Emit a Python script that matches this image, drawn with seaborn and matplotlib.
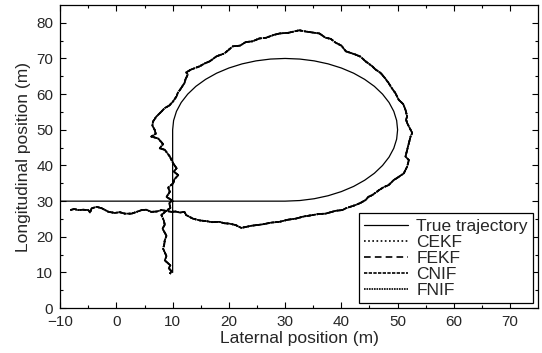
import numpy as np
import pandas as pd
import matplotlib
matplotlib.use("Agg")
import matplotlib.pyplot as plt
import seaborn as sns

# True trajectory
true_x = [-10, 10, 30, 32.61, 35.18, 37.65, 40, 42.18, 44.14, 45.87, 47.32, 48.48,
          49.32, 49.83, 50, 49.83, 49.32, 48.48, 47.32, 45.87, 44.14, 42.18, 40,
          37.65, 35.18, 32.61, 30, 27.39, 24.82, 22.35, 20, 17.82, 15.86, 14.13,
          12.68, 11.52, 10.68, 10.17, 10, 10]
true_y = [30, 30, 30, 30.17, 30.68, 31.52, 32.68, 34.13, 35.86, 37.82, 40, 42.35,
          44.82, 47.39, 50, 52.61, 55.18, 57.65, 60, 62.18, 64.14, 65.87, 67.32,
          68.48, 69.32, 69.83, 70, 69.83, 69.32, 68.48, 67.32, 65.87, 64.14, 62.18,
          60, 57.65, 55.18, 52.61, 50, 10]

# Estimated trajectory (all four filters overlap in the figure)
est_x = [9.5, 9.8, 9.3, 9.6, 8.6, 8.9, 8.3, 8.5, 8.6, 8.9, 8.2, 8.6, 8.4, 8.0, 8.8,
         9.6, 9.4, 9.9, 8.9, 9.5, 9.2, 10.1, 10.3, 11.0, 10.2, 10.7, 10.1, 9.8, 9.5,
         8.6, 7.7, 8.3, 7.4, 6.2, 7.0, 6.8, 6.4, 6.5, 7.1, 8.0, 8.6, 9.4, 10.1, 10.7,
         10.9, 11.3, 12.1, 12.3, 12.7, 12.4, 13.3, 14.8, 15.7, 16.6, 17.8, 19.2, 20.7,
         22.0, 23.0, 24.2, 25.4, 26.6, 28.0, 29.0, 30.6, 32.5, 33.5, 34.3, 36.1, 37.2,
         38.1, 39.0, 40.0, 40.8, 42.5, 43.4, 44.3, 45.5, 46.0, 47.0, 47.8, 48.4, 49.0,
         49.6, 50.2, 51.0, 51.4, 51.7, 51.5, 51.7, 52.6, 52.3, 52.0, 51.7, 51.4, 52.0,
         51.7, 51.1, 50.2, 49.3, 48.4, 47.5, 46.7, 45.5, 44.8, 44.3, 43.4, 42.5, 40.8,
         40.2, 39.0, 37.2, 36.0, 34.9, 33.3, 31.9, 30.5, 29.0, 27.6, 26.0, 24.0, 22.2,
         21.2, 20.1, 19.2, 18.3, 17.0, 16.0, 14.8, 13.6, 12.4, 12.1, 11.3, 10.5, 9.8,
         8.0, 7.2, 6.2, 5.3, 4.5, 3.6, 2.7, 1.5, 0.6, -0.3, -1.4, -2.6, -3.5, -4.4,
         -4.7, -5.0, -5.9, -6.8, -7.5, -8.2]
est_y = [9.6, 10.4, 11.2, 12.0, 13.4, 14.6, 16.7, 17.8, 19.0, 20.3, 22.3, 23.4, 24.7,
         26.1, 27.2, 28.1, 29.4, 30.2, 31.2, 32.6, 33.8, 35.0, 36.1, 37.3, 38.3, 39.2,
         40.6, 41.5, 42.5, 44.4, 44.8, 46.0, 47.6, 48.1, 48.9, 50.0, 51.2, 52.3, 53.7,
         55.1, 56.1, 56.8, 58.0, 59.4, 60.3, 61.2, 63.1, 64.2, 65.5, 66.1, 66.9, 67.8,
         68.6, 69.2, 70.6, 71.4, 73.4, 73.6, 74.6, 74.8, 75.6, 75.8, 76.6, 77.0, 77.2,
         77.9, 77.6, 77.4, 77.0, 75.8, 75.5, 74.4, 73.6, 72.0, 71.1, 70.5, 69.2, 67.8,
         67.0, 65.9, 64.4, 63.1, 61.6, 60.3, 58.4, 57.2, 55.6, 53.7, 52.9, 51.9, 49.1,
         48.1, 46.2, 44.4, 42.5, 41.5, 39.7, 37.8, 36.8, 35.9, 34.5, 33.9, 33.1, 31.7,
         31.2, 30.3, 29.5, 28.9, 28.0, 27.5, 27.3, 26.5, 26.4, 26.1, 25.7, 25.1, 24.8,
         24.2, 24.0, 23.5, 23.1, 22.5, 23.3, 23.7, 23.8, 24.2, 24.1, 24.4, 24.6, 25.1,
         26.1, 27.0, 26.8, 27.1, 27.0, 27.5, 27.1, 27.0, 27.6, 27.5, 27.0, 26.5, 26.5,
         26.9, 26.7, 27.0, 28.0, 28.4, 28.0, 26.8, 27.5, 27.6, 27.5, 27.8, 27.5]

filters = ["CEKF", "FEKF", "CNIF", "FNIF"]
styles = {"True trajectory": "-", "CEKF": (0, (1, 1.5)), "FEKF": (0, (4, 2.5)),
          "CNIF": (0, (2, 0.8)), "FNIF": (0, (1, 0.5))}

sns.set_style("ticks")
plt.rcParams['font.family'] = ['Liberation Sans', 'DejaVu Sans']
plt.rcParams['xtick.direction'] = 'in'
plt.rcParams['ytick.direction'] = 'in'

fig = plt.figure(figsize=(5.42, 3.53), dpi=100)
ax = fig.add_axes([0.111, 0.127, 0.882, 0.859])

true_df = pd.DataFrame({"x": true_x, "y": true_y})
sns.lineplot(data=true_df, x="x", y="y", sort=False, estimator=None, color="black",
             lw=0.9, ls="-", label="True trajectory", ax=ax)

for f in filters:
    df = pd.DataFrame({"x": est_x, "y": est_y})
    sns.lineplot(data=df, x="x", y="y", sort=False, estimator=None, color="black",
                 lw=1.2, ls=styles[f], label=f, ax=ax)

ax.set_xlim(-10, 75)
ax.set_ylim(0, 85)
ax.set_xticks([-10, 0, 10, 20, 30, 40, 50, 60, 70])
ax.set_yticks([0, 10, 20, 30, 40, 50, 60, 70, 80])
ax.set_xticks(np.arange(-5, 75, 10), minor=True)
ax.set_yticks(np.arange(5, 85, 10), minor=True)
ax.tick_params(which="both", top=True, right=True, labelsize=11, color="black")
ax.tick_params(which="major", length=4, width=0.8)
ax.tick_params(which="minor", length=2.5, width=0.8)
ax.tick_params(axis="x", pad=5)
ax.tick_params(axis="y", pad=5)
for s in ax.spines.values():
    s.set_color("black")
    s.set_linewidth(0.9)

ax.set_xlabel("Laternal position (m)", fontsize=12.5, labelpad=1)
ax.set_ylabel("Longitudinal position (m)", fontsize=12.5, labelpad=4)

leg = ax.legend(loc="lower right", fontsize=12.5, frameon=True, fancybox=False,
                edgecolor="black", framealpha=1, handlelength=2.5, borderaxespad=0.3,
                labelspacing=0.05, handletextpad=0.5, borderpad=0.3)
leg.get_frame().set_linewidth(0.9)

fig.savefig("out.png", dpi=100)
